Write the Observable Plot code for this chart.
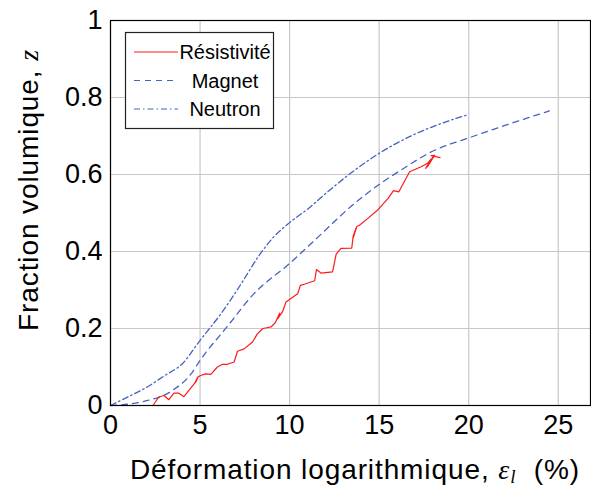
<!DOCTYPE html>
<html>
<head>
<meta charset="utf-8">
<script src="https://cdn.jsdelivr.net/npm/d3@7"></script>
<script src="https://cdn.jsdelivr.net/npm/@observablehq/plot@0.6"></script>
<style>
  html, body { margin: 0; padding: 0; background: white; }
  svg { display: block; }
</style>
</head>
<body>
<div id="chart"></div>
<script>
// Tick values
const xTicks = [0, 5, 10, 15, 20, 25];
const yTicks = [0, 0.2, 0.4, 0.6, 0.8, 1];

// Neutron (dash-dot)
const neutronX = [0, 1.0, 2.05, 3.0, 4.0, 5.0, 6.16, 7.28, 8.3, 9.0, 10.0, 11.0, 12.0, 13.4, 15.0, 17.1, 18.5, 20.0];
const neutronY = [0, 0.023, 0.048, 0.077, 0.108, 0.169, 0.238, 0.315, 0.39, 0.432, 0.475, 0.51, 0.55, 0.603, 0.655, 0.707, 0.733, 0.756];

// Magnet (dashed)
const magnetX = [0, 1.7, 3.45, 4.5, 5.0, 6.5, 8.0, 10.0, 11.6, 13.4, 15.0, 16.2, 18.1, 20.0, 21.8, 24.5];
const magnetY = [0, 0.009, 0.039, 0.082, 0.117, 0.204, 0.29, 0.369, 0.438, 0.516, 0.574, 0.611, 0.663, 0.695, 0.724, 0.765];

// Résistivité (solid red, noisy)
const resX = [2.37, 2.7, 2.99, 3.26, 3.54, 3.82, 4.1, 4.38, 4.7, 4.85, 4.75, 4.9, 5.04, 5.3, 5.6, 5.97, 6.25, 6.53, 6.9, 7.09, 7.46, 7.93, 8.2, 8.5, 8.73, 8.96, 9.2, 9.4, 9.25, 9.45, 9.33, 9.6, 9.8, 10.07, 10.45, 10.6, 10.82, 11.4, 11.5, 11.75, 12.4, 12.6, 12.87, 13.47, 13.55, 13.7, 13.55, 13.75, 13.9, 14.37, 14.9, 15.5, 15.8, 16.1, 16.4, 16.7, 17.35, 17.7, 17.9, 17.6, 18.0, 17.7, 18.1, 17.9, 18.4];
const resY = [0, 0.022, 0.026, 0.015, 0.032, 0.032, 0.023, 0.039, 0.058, 0.072, 0.06, 0.075, 0.078, 0.082, 0.081, 0.1, 0.107, 0.107, 0.113, 0.141, 0.147, 0.165, 0.186, 0.2, 0.202, 0.204, 0.215, 0.235, 0.22, 0.24, 0.225, 0.243, 0.269, 0.278, 0.29, 0.312, 0.315, 0.324, 0.353, 0.344, 0.347, 0.393, 0.408, 0.409, 0.44, 0.46, 0.435, 0.465, 0.468, 0.486, 0.507, 0.538, 0.558, 0.555, 0.581, 0.607, 0.62, 0.629, 0.64, 0.616, 0.645, 0.62, 0.65, 0.649, 0.644];

const toRows = (xs, ys) => xs.map((x, i) => ({x, y: ys[i]}));
const neutron = toRows(neutronX, neutronY);
const magnet = toRows(magnetX, magnetY);
const res = toRows(resX, resY);

const blue = "#4563c2";
const red = "#ff1a1a";
const FONT = "'Liberation Sans', Arial, Helvetica, sans-serif";
const SERIF = "'Liberation Serif', 'DejaVu Serif', serif";

const chart = Plot.plot({
  width: 591,
  height: 488,
  marginLeft: 110,
  marginRight: 1,
  marginTop: 20,
  marginBottom: 83,
  style: {fontFamily: FONT, background: "white", color: "black"},
  x: {domain: [0, 26.8]},
  y: {domain: [0, 1]},
  marks: [
    Plot.gridX(xTicks, {stroke: "#c8c8c8", strokeOpacity: 1, strokeWidth: 1.2}),
    Plot.gridY(yTicks, {stroke: "#c8c8c8", strokeOpacity: 1, strokeWidth: 1.2}),
    Plot.line(neutron, {x: "x", y: "y", stroke: blue, strokeWidth: 1.3, strokeDasharray: "6,3,1.5,3", curve: "monotone-x"}),
    Plot.line(magnet, {x: "x", y: "y", stroke: blue, strokeWidth: 1.3, strokeDasharray: "6,5", curve: "monotone-x"}),
    Plot.line(res, {x: "x", y: "y", stroke: red, strokeWidth: 1.2, curve: "linear"}),
    Plot.axisX({ticks: xTicks, tickSize: 0, tickPadding: 9, fontSize: 27, label: null}),
    Plot.axisY({ticks: yTicks, tickSize: 0, tickPadding: 8, fontSize: 27, label: null, tickFormat: d => String(d)}),
    Plot.frame({stroke: "black", strokeWidth: 1.2})
  ]
});

document.getElementById("chart").appendChild(chart);

const svg = d3.select(chart);

// Axis labels
const xl = svg.append("text")
  .attr("x", 355).attr("y", 479)
  .attr("text-anchor", "middle")
  .attr("font-family", FONT).attr("font-size", 28).attr("letter-spacing", 0.9).attr("fill", "black");
xl.append("tspan").text("Déformation logarithmique, ");
xl.append("tspan").attr("font-family", SERIF).attr("font-style", "italic").text("ε");
xl.append("tspan").attr("font-family", SERIF).attr("font-style", "italic").attr("font-size", 19).attr("dy", 4).text("l");
xl.append("tspan").attr("dy", -4).text("  (%)");

const yl = svg.append("text")
  .attr("transform", "translate(38,190) rotate(-90)")
  .attr("text-anchor", "middle")
  .attr("font-family", FONT).attr("font-size", 28).attr("letter-spacing", 0.9).attr("fill", "black");
yl.append("tspan").text("Fraction volumique, ");
yl.append("tspan").attr("font-family", SERIF).attr("font-style", "italic").text("z");

// Legend
const legend = [
  {label: "Résistivité", stroke: red, dash: null},
  {label: "Magnet", stroke: blue, dash: "6,5"},
  {label: "Neutron", stroke: blue, dash: "6,3,1.5,3"}
];
const lg = svg.append("g");
lg.append("rect").attr("x", 125.5).attr("y", 32.5).attr("width", 148).attr("height", 96)
  .attr("fill", "white").attr("stroke", "#222").attr("stroke-width", 1.2);
legend.forEach((d, i) => {
  const cy = 52 + i * 28.5;
  lg.append("line").attr("x1", 134).attr("x2", 178).attr("y1", cy).attr("y2", cy)
    .attr("stroke", d.stroke).attr("stroke-width", 1.2)
    .attr("stroke-dasharray", d.dash);
  lg.append("text").attr("x", 225).attr("y", cy).attr("dy", "0.35em")
    .attr("text-anchor", "middle")
    .attr("font-family", FONT).attr("font-size", 20).attr("fill", "black")
    .text(d.label);
});
</script>
</body>
</html>
